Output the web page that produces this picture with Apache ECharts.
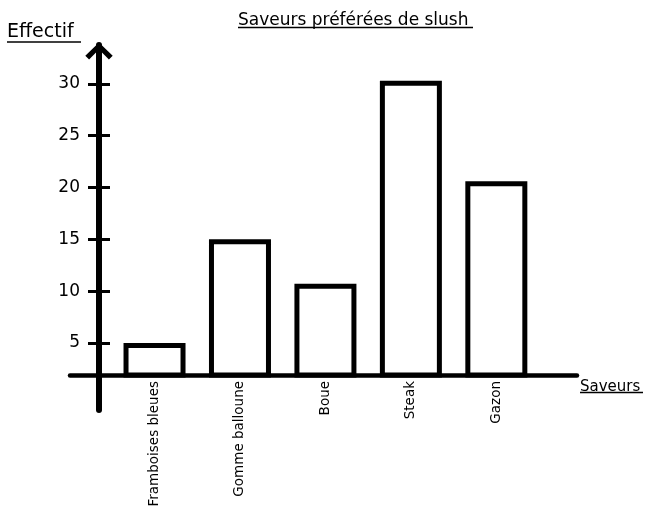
<!DOCTYPE html>
<html><head><meta charset="utf-8">
<script src="https://cdn.jsdelivr.net/npm/echarts@6/dist/echarts.min.js"></script>
<style>html,body{margin:0;padding:0;background:#fff}#c{width:647px;height:506px}</style>
</head><body><div id="c"></div>
<script>
const categories = ['Framboises bleues', 'Gomme balloune', 'Boue', 'Steak', 'Gazon'];
const values = [5, 15, 10.7, 30.3, 20.6];
const yTickValues = [5, 10, 15, 20, 25, 30];
const catIndexes = categories.map((c, i) => i);
const titleText = 'Saveurs préférées de slush';
const yName = 'Effectif';
const xName = 'Saveurs';

const FONT = 'DejaVu Sans';
const chart = echarts.init(document.getElementById('c'), null, {renderer: 'canvas'});
const txt = (size) => ({fontFamily: FONT, fontSize: size, fontWeight: 'normal', color: '#000'});

const option = {
  animation: false,
  backgroundColor: '#fff',
  title: [
    {text: titleText, left: 238, top: 12, padding: 0, textStyle: txt(17)},
    {text: yName, left: 7, top: 23, padding: 0, textStyle: txt(19)},
    {text: xName, left: 580, top: 380, padding: 0, textStyle: txt(15)}
  ],
  graphic: [
    {type: 'line', shape: {x1: 238, y1: 27.5, x2: 473, y2: 27.5}, style: {stroke: '#000', lineWidth: 1.5}},
    {type: 'line', shape: {x1: 7, y1: 42, x2: 81, y2: 42}, style: {stroke: '#000', lineWidth: 1.5}},
    {type: 'line', shape: {x1: 580, y1: 392.5, x2: 643, y2: 392.5}, style: {stroke: '#000', lineWidth: 1.5}}
  ],
  grid: [
    {left: 110, right: 70, top: 42.5, bottom: 131, outerBoundsMode: 'none', containLabel: false},
    {left: 99, right: 500, top: 45, bottom: 96, outerBoundsMode: 'none', containLabel: false},
    {left: 70, right: 70, top: 42.5, bottom: 131, outerBoundsMode: 'none', containLabel: false}
  ],
  xAxis: [
    {
      gridIndex: 0, type: 'value', min: -0.521, max: 4.944,
      splitLine: {show: false},
      axisTick: {show: false},
      axisLine: {show: false, onZero: false},
      axisLabel: {
        customValues: catIndexes,
        formatter: (v) => categories[Math.round(v)],
        rotate: 90, margin: 6, ...txt(13.5)
      }
    },
    {gridIndex: 1, type: 'value', show: false},
    {
      gridIndex: 2, type: 'value', min: 0, max: 1,
      axisLine: {show: true, onZero: false, lineStyle: {color: '#000', width: 4.5}},
      axisTick: {show: false}, axisLabel: {show: false}, splitLine: {show: false}
    }
  ],
  yAxis: [
    {
      gridIndex: 0, type: 'value', min: 1.9, max: 34,
      axisLine: {show: false, onZero: false},
      axisTick: {show: true, length: 22, customValues: yTickValues, lineStyle: {width: 3, color: '#000'}},
      axisLabel: {customValues: yTickValues, margin: 30, ...txt(17)},
      splitLine: {show: false}
    },
    {
      gridIndex: 1, type: 'value',
      axisLine: {
        show: true, onZero: false,
        lineStyle: {width: 6, color: '#000'},
        symbol: ['none', 'path://M0,14 L14.5,0 L29,14 L25,18 L14.5,7.5 L4,18 Z'],
        symbolSize: [29, 17],
        symbolOffset: [0, -6]
      },
      axisTick: {show: false}, axisLabel: {show: false}, splitLine: {show: false}
    },
    {gridIndex: 2, type: 'value', show: false}
  ],
  series: [{
    type: 'bar',
    xAxisIndex: 0, yAxisIndex: 0,
    clip: true,
    z: 3,
    data: values.map((v, i) => [i, v]),
    barWidth: 62,
    itemStyle: {color: '#fff', borderColor: '#000', borderWidth: 5}
  }]
};
chart.setOption(option);
</script>
</body></html>
